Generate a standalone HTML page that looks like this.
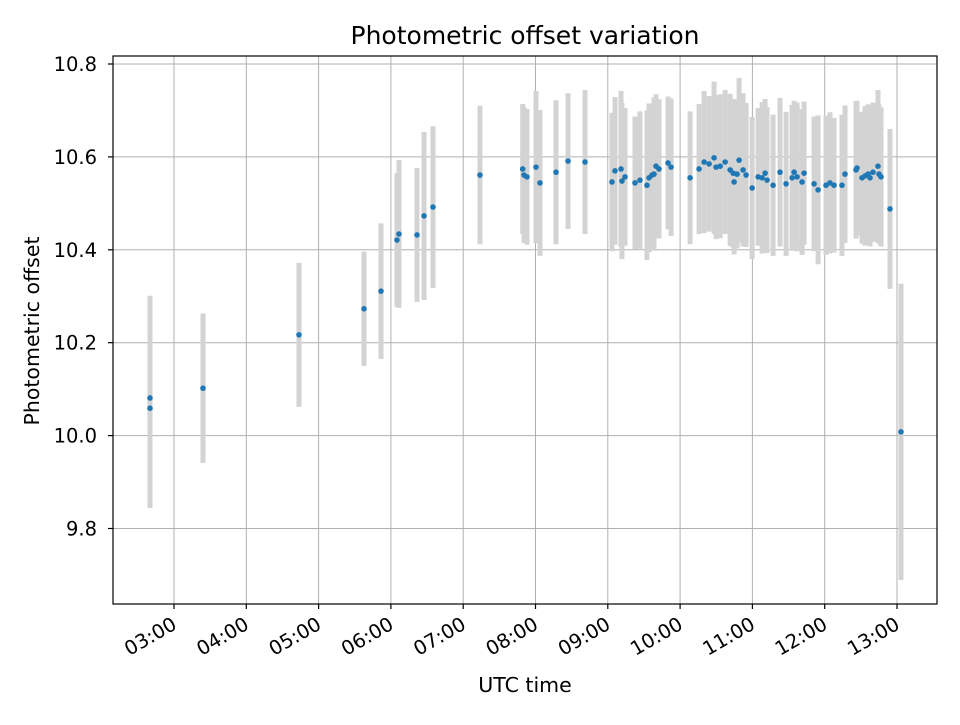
<!DOCTYPE html>
<html><head><meta charset="utf-8"><style>
body{margin:0;background:#fff}
svg text{font-family:"DejaVu Sans","Liberation Sans",sans-serif;fill:#000}
</style></head><body>
<svg id="chart" width="960" height="720" viewBox="0 0 960 720">
<rect width="960" height="720" fill="#fff"/>
<g id="grid"></g>
<g id="bars"></g>
<g id="pts"></g>
<rect x="113" y="56" width="824" height="548" fill="none" stroke="#000" stroke-width="1.2"/>
<g id="ticks"></g>
<text x="525" y="44" text-anchor="middle" font-size="25">Photometric offset variation</text>
<text x="525" y="692" text-anchor="middle" font-size="20.5">UTC time</text>
<text transform="translate(39,331) rotate(-90)" text-anchor="middle" font-size="20.5">Photometric offset</text>
</svg>
<script>
const times=[2.668,2.668,3.401,4.729,5.628,5.863,6.084,6.112,6.361,6.458,6.582,7.232,7.823,7.841,7.882,8.007,8.062,8.284,8.450,8.685,9.058,9.100,9.183,9.196,9.238,9.376,9.445,9.542,9.570,9.611,9.639,9.667,9.708,9.833,9.875,10.138,10.262,10.332,10.401,10.470,10.498,10.554,10.623,10.692,10.734,10.747,10.788,10.816,10.871,10.913,10.996,11.079,11.135,11.176,11.203,11.286,11.382,11.466,11.549,11.577,11.618,11.687,11.715,11.853,11.909,12.018,12.073,12.129,12.239,12.281,12.433,12.447,12.516,12.557,12.600,12.627,12.668,12.737,12.751,12.779,12.903,13.055];
const offsets=[10.081,10.059,10.102,10.217,10.273,10.311,10.421,10.434,10.432,10.473,10.492,10.561,10.574,10.561,10.557,10.578,10.544,10.567,10.591,10.589,10.546,10.570,10.574,10.548,10.557,10.544,10.550,10.539,10.555,10.561,10.563,10.580,10.574,10.587,10.578,10.555,10.574,10.589,10.585,10.598,10.578,10.580,10.589,10.572,10.565,10.546,10.563,10.593,10.572,10.561,10.533,10.557,10.555,10.565,10.550,10.539,10.567,10.542,10.555,10.567,10.557,10.546,10.565,10.542,10.529,10.539,10.544,10.539,10.539,10.563,10.572,10.576,10.555,10.559,10.563,10.555,10.567,10.580,10.563,10.557,10.488,10.008];
const errors=[0.220,0.215,0.161,0.155,0.123,0.146,0.144,0.159,0.144,0.181,0.174,0.149,0.140,0.146,0.146,0.164,0.157,0.155,0.146,0.155,0.149,0.159,0.168,0.168,0.148,0.143,0.148,0.161,0.160,0.150,0.165,0.155,0.150,0.143,0.148,0.143,0.140,0.153,0.146,0.164,0.155,0.155,0.155,0.164,0.160,0.156,0.160,0.177,0.165,0.155,0.153,0.148,0.163,0.160,0.157,0.152,0.160,0.155,0.157,0.154,0.160,0.157,0.154,0.145,0.160,0.150,0.152,0.145,0.152,0.148,0.148,0.145,0.142,0.150,0.150,0.148,0.150,0.164,0.150,0.150,0.172,0.319];
const xTickHours=[3,4,5,6,7,8,9,10,11,12,13];
const xTickLabels=["03:00","04:00","05:00","06:00","07:00","08:00","09:00","10:00","11:00","12:00","13:00"];
const yTicks=[9.8,10.0,10.2,10.4,10.6,10.8];
const yTickLabels=["9.8","10.0","10.2","10.4","10.6","10.8"];

const NS="http://www.w3.org/2000/svg";
const X0=113,X1=937,Y0=56,Y1=604;
function xs(h){return 174+(h-3)*72.3;}
function ys(v){return 64+(10.8-v)*464.5;}
function mk(tag,attrs,parent){const e=document.createElementNS(NS,tag);for(const k in attrs)e.setAttribute(k,attrs[k]);parent.appendChild(e);return e;}
const grid=document.getElementById('grid'),ticks=document.getElementById('ticks');
const bars=document.getElementById('bars'),pts=document.getElementById('pts');
xTickHours.forEach((h,i)=>{
  const x=xs(h);
  const g=mk('line',{x1:x,x2:x,y1:Y0,y2:Y1,stroke:'#b0b0b0','stroke-width':1},grid);
  
  
  const t=mk('line',{x1:x,x2:x,y1:Y1,y2:Y1+5,stroke:'#000','stroke-width':1.2},ticks);
  
  
  const l=mk('text',{transform:`translate(${x+4},${Y1+24}) rotate(-30)`,'text-anchor':'end','font-size':19.5},ticks);
  l.textContent=xTickLabels[i];
  
  
});
yTicks.forEach((v,i)=>{
  const y=ys(v);
  const g=mk('line',{x1:X0,x2:X1,y1:y,y2:y,stroke:'#b0b0b0','stroke-width':1},grid);
  
  
  const t=mk('line',{x1:X0-5,x2:X0,y1:y,y2:y,stroke:'#000','stroke-width':1.2},ticks);
  
  
  const l=mk('text',{x:X0-16,y:y+7,'text-anchor':'end','font-size':19.5},ticks);
  l.textContent=yTickLabels[i];
  
  
});
times.forEach((h,i)=>{
  const x=xs(h);
  const b=mk('line',{x1:x,x2:x,y1:ys(offsets[i]+errors[i]),y2:ys(offsets[i]-errors[i]),stroke:'#d3d3d3','stroke-width':5},bars);
  
  
  const p=mk('circle',{cx:x,cy:ys(offsets[i]),r:2.8,fill:'#1f77b4'},pts);
  
  
});
</script>
</body></html>
